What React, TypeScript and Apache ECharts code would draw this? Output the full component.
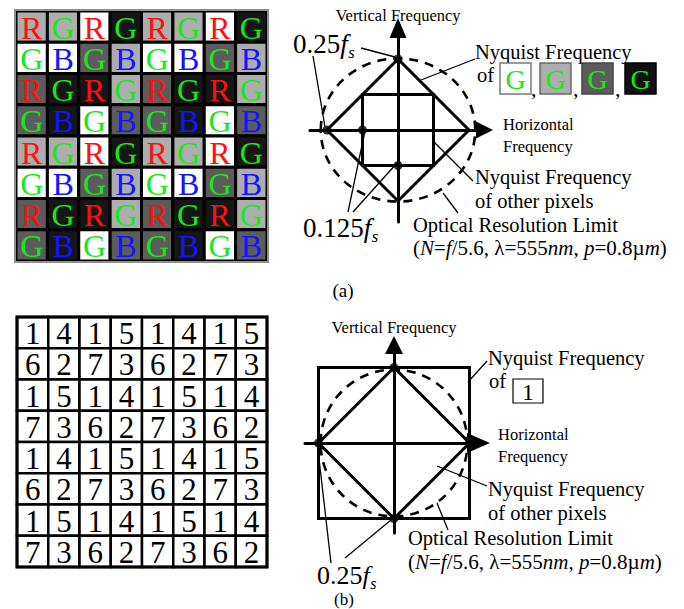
import React, { useEffect, useRef } from 'react';
import * as echarts from 'echarts';

const FONT = "'Liberation Serif', 'Times New Roman', serif";

// (a) colour filter: letter of each pixel, row by row
const BAYER_ROWS = [
  'RGRGRGRG', 'GBGBGBGB', 'RGRGRGRG', 'GBGBGBGB',
  'RGRGRGRG', 'GBGBGBGB', 'RGRGRGRG', 'GBGBGBGB',
];
// (a) exposure class of each pixel: W white, L light grey, D dark grey, K black
const SHADE_ROWS = [
  'LLWKLLWK', 'WWDLWWDL', 'DKKLDKKL', 'DKWDDKWD',
  'LLWKLLWK', 'WWDLWWDL', 'DKKLDKKL', 'DKWDDKWD',
];
// (b) pixel group number of each pixel
const GROUP_ROWS = [
  [1, 4, 1, 5, 1, 4, 1, 5],
  [6, 2, 7, 3, 6, 2, 7, 3],
  [1, 5, 1, 4, 1, 5, 1, 4],
  [7, 3, 6, 2, 7, 3, 6, 2],
  [1, 4, 1, 5, 1, 4, 1, 5],
  [6, 2, 7, 3, 6, 2, 7, 3],
  [1, 5, 1, 4, 1, 5, 1, 4],
  [7, 3, 6, 2, 7, 3, 6, 2],
];
const GRID_INDEX = [0, 1, 2, 3, 4, 5, 6, 7];

// frequencies in units of the sampling frequency fs
const NYQ_G = 0.25;
const NYQ_OTHER_A = 0.125;
const NYQ_ONE_B = 0.25;
const OPTICAL_A = [0.272, 0.252]; // optical limit, horizontal / vertical radius
const OPTICAL_B = [0.243, 0.243];
const DIAMOND = [[0, NYQ_G], [NYQ_G, 0], [0, -NYQ_G], [-NYQ_G, 0], [0, NYQ_G]];
const SQUARE_A = [
  [-NYQ_OTHER_A, NYQ_OTHER_A], [NYQ_OTHER_A, NYQ_OTHER_A],
  [NYQ_OTHER_A, -NYQ_OTHER_A], [-NYQ_OTHER_A, -NYQ_OTHER_A], [-NYQ_OTHER_A, NYQ_OTHER_A],
];
const SQUARE_B = [
  [-NYQ_ONE_B, NYQ_ONE_B], [NYQ_ONE_B, NYQ_ONE_B],
  [NYQ_ONE_B, -NYQ_ONE_B], [-NYQ_ONE_B, -NYQ_ONE_B], [-NYQ_ONE_B, NYQ_ONE_B],
];
const DOTS_A = [[0, NYQ_G], [-NYQ_G, 0], [-NYQ_OTHER_A, 0], [0, -NYQ_OTHER_A]];
const DOTS_B = [[0, NYQ_G], [-NYQ_G, 0], [NYQ_G, 0], [0, -NYQ_G]];

const SHADE_COLORS: Record<string, string> = { W: '#ffffff', L: '#adadad', D: '#5c5c5c', K: '#161616' };
const LETTER_COLORS: Record<string, string> = { R: '#ff1010', G: '#18e818', B: '#1414ff' };

// layout of the two frequency diagrams (pixel centre, pixels per fs, axis extents)
const DIAG_A = { cx: 398, cy: 130, s: 284, x: [-0.31, 0.3046], y: [-0.324, 0.359], xArrow: [17, 17], yArrow: [17, 20] };
const DIAG_B = { cx: 394, cy: 443, s: 302, x: [-0.2947, 0.2798], y: [-0.298, 0.3245], xArrow: [20, 23], yArrow: [18, 18] };

function diagramGrid(d: any) {
  return {
    left: d.cx + d.x[0] * d.s,
    top: d.cy - d.y[1] * d.s,
    width: (d.x[1] - d.x[0]) * d.s,
    height: (d.y[1] - d.y[0]) * d.s,
    show: false,
  };
}

function freqAxis(gridIndex: number, ext: number[], arrow: number[]) {
  return {
    type: 'value',
    gridIndex,
    min: ext[0],
    max: ext[1],
    axisLine: {
      show: true,
      onZero: true,
      symbol: ['none', 'triangle'],
      symbolSize: arrow,
      lineStyle: { color: '#000', width: 3 },
    },
    axisTick: { show: false },
    axisLabel: { show: false },
    splitLine: { show: false },
  };
}

function catAxis(gridIndex: number, inverse: boolean) {
  return { type: 'category', gridIndex, data: GRID_INDEX, show: false, inverse, boundaryGap: true };
}

function text(x: number, y: number, t: string, size: number, extra: any = {}) {
  return {
    type: 'text',
    x,
    y,
    silent: true,
    style: {
      text: t,
      fontSize: size,
      fontFamily: FONT,
      fill: '#000',
      textAlign: 'left',
      textVerticalAlign: 'middle',
      ...extra,
    },
  };
}

function leader(x1: number, y1: number, x2: number, y2: number) {
  return { type: 'line', silent: true, shape: { x1, y1, x2, y2 }, style: { stroke: '#000', lineWidth: 1.3 } };
}

// "0.25 fs" style label: number, italic f, italic subscript s
function fsLabel(x: number, y: number, num: string, size: number) {
  let w = 0;
  for (const ch of num) w += ch === '.' ? 0.25 : 0.5;
  const fx = x + w * size;
  return [
    text(x, y, num, size),
    text(fx, y, 'f', size, { fontStyle: 'italic' }),
    text(fx + 0.3 * size, y + 0.32 * size, 's', size * 0.62, { fontStyle: 'italic' }),
  ];
}

const OPTICS_RICH = '{r|(}{i|N}{r|=}{i|f}{r|/5.6, λ=555}{i|nm}{r|, }{i|p}{r|=0.8µ}{i|m}{r|)}';
function opticsText(x: number, y: number, size: number) {
  return {
    type: 'text',
    x,
    y,
    silent: true,
    style: {
      text: OPTICS_RICH,
      textAlign: 'left',
      textVerticalAlign: 'middle',
      fontSize: size,
      fontFamily: FONT,
      rich: {
        r: { fontSize: size, fontFamily: FONT, fill: '#000' },
        i: { fontSize: size, fontFamily: FONT, fontStyle: 'italic', fill: '#000' },
      },
    },
  };
}

function swatch(x: number, y: number, fill: string, stroke: string) {
  return [
    { type: 'rect', silent: true, shape: { x, y, width: 31, height: 31 }, style: { fill, stroke, lineWidth: 1.5 } },
    text(x + 15.5, y + 16, 'G', 28, { textAlign: 'center', fill: LETTER_COLORS.G }),
  ];
}

function mosaicSeries(axisIndex: number, cells: any[], strokeW: number) {
  return {
    type: 'custom',
    coordinateSystem: 'cartesian2d',
    xAxisIndex: axisIndex,
    yAxisIndex: axisIndex,
    silent: true,
    data: cells.map((c) => [c.col, c.row]),
    renderItem: (params: any, api: any) => {
      const cell = cells[params.dataIndex];
      const c = api.coord([api.value(0), api.value(1)]);
      const sz = api.size([1, 1]);
      return {
        type: 'group',
        children: [
          {
            type: 'rect',
            shape: { x: c[0] - sz[0] / 2, y: c[1] - sz[1] / 2, width: sz[0], height: sz[1] },
            style: { fill: cell.fill, stroke: '#000', lineWidth: strokeW },
          },
          {
            type: 'text',
            style: {
              text: cell.label,
              x: c[0],
              y: c[1] + 1,
              textAlign: 'center',
              textVerticalAlign: 'middle',
              fontSize: cell.size,
              fontFamily: FONT,
              fill: cell.color,
            },
          },
        ],
      };
    },
  };
}

function frameSeries(axisIndex: number, stroke: string, width: number, grow: number) {
  return {
    type: 'custom',
    coordinateSystem: 'cartesian2d',
    xAxisIndex: axisIndex,
    yAxisIndex: axisIndex,
    silent: true,
    z: 3,
    data: [[0, 0]],
    renderItem: (params: any) => {
      const cs = params.coordSys;
      return {
        type: 'rect',
        shape: { x: cs.x - grow, y: cs.y - grow, width: cs.width + 2 * grow, height: cs.height + 2 * grow },
        style: { fill: 'none', stroke, lineWidth: width },
      };
    },
  };
}

function ellipseSeries(axisIndex: number, r: number[]) {
  return {
    type: 'custom',
    coordinateSystem: 'cartesian2d',
    xAxisIndex: axisIndex,
    yAxisIndex: axisIndex,
    silent: true,
    data: [[0, 0, r[0], r[1]]],
    renderItem: (params: any, api: any) => {
      const c = api.coord([api.value(0), api.value(1)]);
      const sz = api.size([api.value(2), api.value(3)]);
      return {
        type: 'ellipse',
        shape: { cx: c[0], cy: c[1], rx: sz[0], ry: sz[1] },
        style: { fill: 'none', stroke: '#000', lineWidth: 2.6, lineDash: [9, 7] },
      };
    },
  };
}

function outline(axisIndex: number, pts: number[][]) {
  return {
    type: 'line',
    xAxisIndex: axisIndex,
    yAxisIndex: axisIndex,
    data: pts,
    symbol: 'none',
    silent: true,
    lineStyle: { color: '#000', width: 3, join: 'miter', cap: 'square' },
  };
}

function dots(axisIndex: number, pts: number[][]) {
  return {
    type: 'scatter',
    xAxisIndex: axisIndex,
    yAxisIndex: axisIndex,
    data: pts,
    symbol: 'circle',
    symbolSize: 9,
    silent: true,
    z: 5,
    itemStyle: { color: '#000' },
  };
}

function buildOption() {
  const bayerCells: any[] = [];
  BAYER_ROWS.forEach((row, r) => {
    row.split('').forEach((ch, c) => {
      bayerCells.push({
        col: c, row: r, label: ch, size: 32,
        fill: SHADE_COLORS[SHADE_ROWS[r][c]],
        color: LETTER_COLORS[ch],
      });
    });
  });
  const groupCells: any[] = [];
  GROUP_ROWS.forEach((row, r) => {
    row.forEach((g, c) => {
      groupCells.push({ col: c, row: r, label: String(g), size: 31, fill: '#fff', color: '#000' });
    });
  });

  const graphic: any[] = [
    // ---- (a) annotations
    text(398, 15, 'Vertical Frequency', 16.5, { textAlign: 'center' }),
    ...fsLabel(293, 44, '0.25', 27),
    leader(361, 48, 395, 57),
    leader(313, 56, 325, 127),
    text(475, 52, 'Nyquist Frequency', 20.5),
    text(477, 75, 'of', 20.5),
    ...swatch(500, 63, '#ffffff', '#7a7a7a'),
    ...swatch(540, 63, '#adadad', '#6a6a6a'),
    ...swatch(582, 63, '#5c5c5c', '#444'),
    ...swatch(625, 63, '#111111', '#000'),
    text(531, 88, ',', 22),
    text(573, 88, ',', 22),
    text(615, 88, ',', 22),
    leader(475, 59, 421, 80),
    text(503, 124, 'Horizontal', 16.5),
    text(503, 146, 'Frequency', 16.5),
    text(475, 177, 'Nyquist Frequency', 20.5),
    text(475, 201, 'of other pixels', 20.5),
    leader(473, 181, 433, 141),
    ...fsLabel(303, 228, '0.125', 27),
    leader(348, 212, 365, 131),
    leader(353, 212, 397, 163),
    text(413, 225, 'Optical Resolution Limit', 20.5),
    opticsText(413, 248, 21),
    leader(443, 193, 458, 213),
    text(343, 290, '(a)', 19, { textAlign: 'center' }),

    // ---- (b) annotations
    text(394, 327, 'Vertical Frequency', 16.5, { textAlign: 'center' }),
    text(488, 358, 'Nyquist Frequency', 20.5),
    text(489, 381, 'of', 20.5),
    { type: 'rect', silent: true, shape: { x: 513, y: 379, width: 30, height: 24 }, style: { fill: '#fff', stroke: '#000', lineWidth: 1.2 } },
    text(528, 391.5, '1', 24, { textAlign: 'center' }),
    leader(487, 361, 468, 382),
    text(498, 434, 'Horizontal', 16.5),
    text(498, 456, 'Frequency', 16.5),
    text(488, 489, 'Nyquist Frequency', 20.5),
    text(488, 513, 'of other pixels', 20.5),
    leader(487, 486, 437, 466),
    text(408, 538, 'Optical Resolution Limit', 20.5),
    opticsText(408, 562, 21),
    leader(437, 503, 448, 530),
    ...fsLabel(317, 575, '0.25', 26),
    leader(331, 563, 318, 450),
    leader(345, 558, 391, 520),
    text(344, 599.5, '(b)', 17, { textAlign: 'center' }),
  ];

  return {
    animation: false,
    backgroundColor: '#ffffff',
    grid: [
      { left: 16, top: 11, width: 251, height: 250, show: false },
      diagramGrid(DIAG_A),
      { left: 17, top: 317, width: 250, height: 250, show: false },
      diagramGrid(DIAG_B),
    ],
    xAxis: [
      catAxis(0, false),
      freqAxis(1, DIAG_A.x, DIAG_A.xArrow),
      catAxis(2, false),
      freqAxis(3, DIAG_B.x, DIAG_B.xArrow),
    ],
    yAxis: [
      catAxis(0, true),
      freqAxis(1, DIAG_A.y, DIAG_A.yArrow),
      catAxis(2, true),
      freqAxis(3, DIAG_B.y, DIAG_B.yArrow),
    ],
    series: [
      mosaicSeries(0, bayerCells, 3),
      frameSeries(0, '#8f8f8f', 2, 1),
      mosaicSeries(2, groupCells, 2.5),
      frameSeries(2, '#000', 3, 0),
      ellipseSeries(1, OPTICAL_A),
      outline(1, DIAMOND),
      outline(1, SQUARE_A),
      dots(1, DOTS_A),
      ellipseSeries(3, OPTICAL_B),
      outline(3, SQUARE_B),
      outline(3, DIAMOND),
      dots(3, DOTS_B),
    ],
    graphic,
  };
}

export default function App() {
  const ref = useRef<HTMLDivElement>(null);
  useEffect(() => {
    if (!ref.current) return;
    const chart = echarts.init(ref.current, undefined, { renderer: 'svg' });
    chart.setOption(buildOption() as any);
    return () => chart.dispose();
  }, []);
  return (
    <div
      ref={ref}
      style={{ position: 'absolute', left: 0, top: 0, width: 684, height: 609, background: '#fff' }}
    />
  );
}
